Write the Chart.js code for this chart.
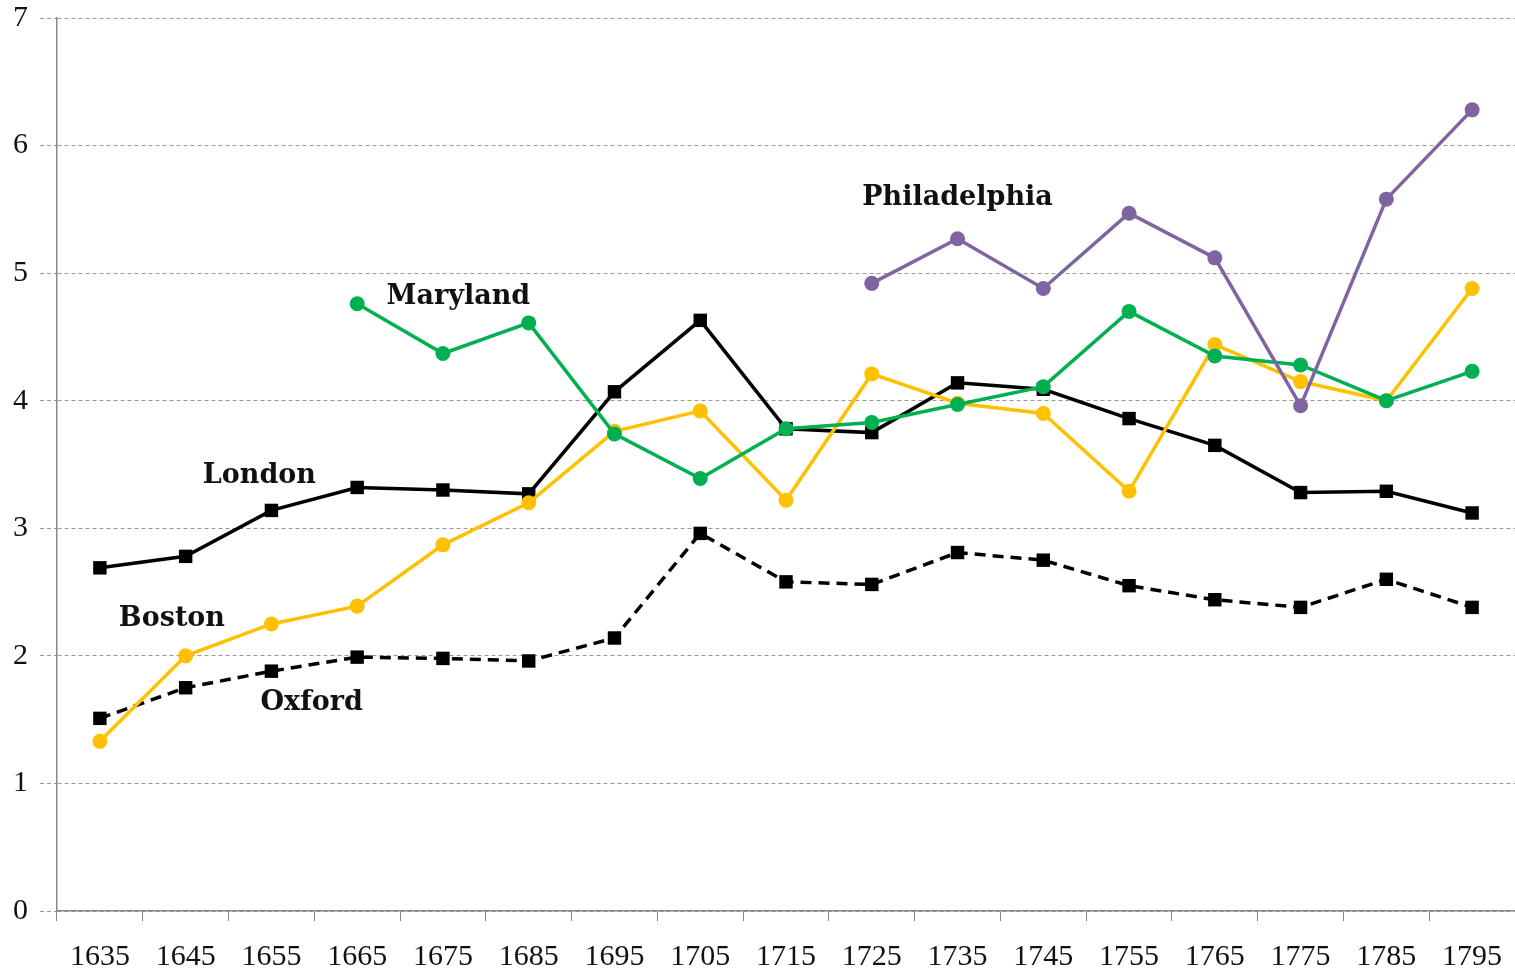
<!DOCTYPE html>
<html>
<head>
<meta charset="utf-8">
<script src="https://cdn.jsdelivr.net/npm/chart.js@4/dist/chart.umd.min.js"></script>
<style>
  html, body { margin: 0; padding: 0; background: #fff; overflow: hidden; }
  canvas { display: block; }
</style>
</head>
<body>
<canvas id="wageChart" width="1515" height="974"></canvas>
<script>
// Decades (category labels)
const years = ['1635', '1645', '1655', '1665', '1675', '1685', '1695', '1705', '1715',
               '1725', '1735', '1745', '1755', '1765', '1775', '1785', '1795'];

// Series values
const london = [2.69, 2.78, 3.14, 3.32, 3.30, 3.27, 4.07, 4.63, 3.78, 3.75, 4.14, 4.09, 3.86, 3.65, 3.28, 3.29, 3.12];
const oxford = [1.51, 1.75, 1.88, 1.99, 1.98, 1.96, 2.14, 2.96, 2.58, 2.56, 2.81, 2.75, 2.55, 2.44, 2.38, 2.60, 2.38];
const boston = [1.33, 2.00, 2.25, 2.39, 2.87, 3.20, 3.76, 3.92, 3.22, 4.21, 3.98, 3.90, 3.29, 4.44, 4.15, 4.00, 4.88];
const maryland = [null, null, null, 4.76, 4.37, 4.61, 3.74, 3.39, 3.78, 3.83, 3.97, 4.11, 4.70, 4.35, 4.28, 4.00, 4.23];
const philadelphia = [null, null, null, null, null, null, null, null, null, 4.92, 5.27, 4.88, 5.47, 5.12, 3.96, 5.58, 6.28];

// Series name labels written inside the plot (category index, value)
const seriesNames = ['Philadelphia', 'Maryland', 'London', 'Boston', 'Oxford'];
const nameAtIndex = [10.0, 4.18, 1.86, 0.84, 2.47];
const nameAtValue = [5.59, 4.81, 3.41, 2.29, 1.63];

const FONT = "'Liberation Serif', 'DejaVu Serif', serif";

// Draws the series names using the chart scales
const seriesNamePlugin = {
    id: 'seriesNames',
    afterDatasetsDraw(chart) {
        const ctx = chart.ctx;
        const xs = chart.scales.x;
        const ys = chart.scales.y;
        ctx.save();
        ctx.font = "bold 27px 'DejaVu Serif', serif";
        ctx.fillStyle = '#111';
        ctx.textAlign = 'center';
        ctx.textBaseline = 'middle';
        seriesNames.forEach((name, i) => {
            ctx.fillText(name, xs.getPixelForValue(nameAtIndex[i]), ys.getPixelForValue(nameAtValue[i]));
        });
        ctx.restore();
    }
};

function lineSet(label, data, color, style, dash) {
    return {
        label: label,
        data: data,
        borderColor: color,
        backgroundColor: color,
        borderWidth: 3.5,
        borderDash: dash || [],
        pointStyle: style,
        pointRadius: style === 'rect' ? 9.5 : 7.5,
        pointBorderWidth: 0,
        tension: 0,
        spanGaps: false,
        clip: false
    };
}

const ctx = document.getElementById('wageChart').getContext('2d');
const wageChart = new Chart(ctx, {
    type: 'line',
    data: {
        labels: years,
        datasets: [
            lineSet('Philadelphia', philadelphia, '#8064A2', 'circle'),
            lineSet('Maryland', maryland, '#00B050', 'circle'),
            lineSet('Boston', boston, '#FFC000', 'circle'),
            lineSet('London', london, '#000000', 'rect'),
            lineSet('Oxford', oxford, '#000000', 'rect', [11, 7])
        ]
    },
    options: {
        responsive: false,
        animation: false,
        layout: { padding: 0, autoPadding: false },
        plugins: {
            legend: { display: false },
            tooltip: { enabled: false }
        },
        scales: {
            x: {
                offset: true,
                grid: {
                    offset: true,
                    drawOnChartArea: false,
                    drawTicks: true,
                    tickLength: 10,
                    color: '#888'
                },
                border: { color: '#888', width: 1.5 },
                ticks: {
                    color: '#111',
                    padding: 18,
                    maxRotation: 0,
                    autoSkip: false,
                    font: { family: FONT, size: 30 }
                },
                afterFit(scale) {
                    scale.height = 63;
                    scale.paddingLeft = 0;
                    scale.paddingRight = 0;
                }
            },
            y: {
                min: 0,
                max: 7,
                grid: {
                    color: '#999',
                    lineWidth: 1,
                    tickLength: 17,
                    tickBorderDash: [4, 3]
                },
                border: { color: '#888', width: 1.5, dash: [4, 3] },
                ticks: {
                    stepSize: 1,
                    color: '#111',
                    padding: 12,
                    font: { family: FONT, size: 30 }
                },
                afterFit(scale) {
                    scale.width = 57;
                    scale.paddingTop = 18;
                    scale.paddingBottom = 0;
                }
            }
        }
    },
    plugins: [seriesNamePlugin]
});
</script>
</body>
</html>
